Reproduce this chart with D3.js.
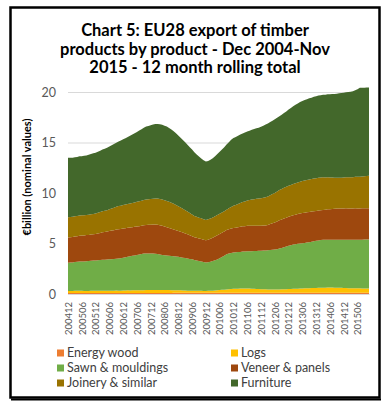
<!DOCTYPE html>
<html><head><meta charset="utf-8">
<script src="https://cdn.jsdelivr.net/npm/d3@7/dist/d3.min.js"></script>
<style>body{margin:0;background:#fff}svg{display:block}</style>
</head><body>
<script>
const titleLines = ["Chart 5: EU28 export of timber", "products by product - Dec 2004-Nov", "2015 - 12 month rolling total"];
const yLabel = "€billion (nominal values)";
const months = [
"200412",
"200501","200502","200503","200504","200505","200506","200507","200508","200509","200510","200511","200512",
"200601","200602","200603","200604","200605","200606","200607","200608","200609","200610","200611","200612",
"200701","200702","200703","200704","200705","200706","200707","200708","200709","200710","200711","200712",
"200801","200802","200803","200804","200805","200806","200807","200808","200809","200810","200811","200812",
"200901","200902","200903","200904","200905","200906","200907","200908","200909","200910","200911","200912",
"201001","201002","201003","201004","201005","201006","201007","201008","201009","201010","201011","201012",
"201101","201102","201103","201104","201105","201106","201107","201108","201109","201110","201111","201112",
"201201","201202","201203","201204","201205","201206","201207","201208","201209","201210","201211","201212",
"201301","201302","201303","201304","201305","201306","201307","201308","201309","201310","201311","201312",
"201401","201402","201403","201404","201405","201406","201407","201408","201409","201410","201411","201412",
"201501","201502","201503","201504","201505","201506","201507","201508","201509","201510","201511"];
const tickLabels = ["200412","200506","200512","200606","200612","200706","200712","200806","200812","200906","200912","201006","201012","201106","201112","201206","201212","201306","201312","201406","201412","201506"];
const yTicks = [0, 5, 10, 15, 20];
const seriesNames = ["Energy wood", "Logs", "Sawn & mouldings", "Veneer & panels", "Joinery & similar", "Furniture"];
const seriesColors = ["#ED7D31", "#FFC000", "#70AD47", "#9E480E", "#997300", "#43682B"];

const energyWood = [
0.10,0.10,0.09,0.10,0.10,0.10,0.11,0.10,0.10,0.10,0.10,0.10,
0.10,0.10,0.10,0.11,0.10,0.10,0.10,0.10,0.10,0.11,0.10,0.10,
0.10,0.10,0.11,0.10,0.10,0.10,0.10,0.10,0.10,0.10,0.11,0.10,
0.10,0.10,0.10,0.10,0.10,0.11,0.11,0.11,0.11,0.11,0.12,0.12,
0.12,0.12,0.12,0.12,0.12,0.12,0.13,0.13,0.13,0.13,0.13,0.13,
0.13,0.13,0.13,0.13,0.13,0.13,0.13,0.13,0.13,0.13,0.13,0.13,
0.13,0.13,0.13,0.13,0.13,0.13,0.13,0.13,0.12,0.12,0.12,0.12,
0.12,0.12,0.12,0.12,0.13,0.13,0.13,0.13,0.13,0.13,0.13,0.13,
0.13,0.13,0.13,0.13,0.13,0.13,0.13,0.13,0.13,0.13,0.13,0.13,
0.13,0.13,0.13,0.13,0.13,0.13,0.13,0.13,0.13,0.13,0.13,0.13,
0.13,0.13,0.13,0.13,0.13,0.13,0.13,0.13,0.13,0.13,0.13,0.13];
const logs = [
0.20,0.20,0.20,0.21,0.21,0.21,0.21,0.20,0.20,0.20,0.21,0.21,
0.21,0.21,0.22,0.22,0.22,0.22,0.22,0.22,0.22,0.23,0.23,0.23,
0.24,0.24,0.25,0.25,0.26,0.26,0.27,0.27,0.28,0.28,0.28,0.29,
0.29,0.30,0.30,0.30,0.30,0.29,0.29,0.28,0.28,0.27,0.26,0.26,
0.25,0.24,0.23,0.22,0.21,0.20,0.20,0.19,0.19,0.18,0.18,0.17,
0.17,0.18,0.19,0.20,0.22,0.24,0.26,0.28,0.30,0.32,0.34,0.36,
0.38,0.39,0.40,0.41,0.42,0.42,0.42,0.41,0.40,0.39,0.38,0.37,
0.36,0.35,0.34,0.33,0.32,0.32,0.31,0.31,0.32,0.33,0.34,0.35,
0.36,0.37,0.38,0.39,0.40,0.41,0.42,0.43,0.44,0.45,0.46,0.47,
0.47,0.48,0.49,0.50,0.50,0.51,0.51,0.51,0.50,0.50,0.49,0.48,
0.47,0.46,0.45,0.45,0.44,0.44,0.43,0.43,0.42,0.42,0.42,0.42];
const sawnMouldings = [
2.80,2.82,2.84,2.86,2.88,2.90,2.91,2.93,2.95,2.96,2.98,3.00,
3.01,3.03,3.04,3.06,3.08,3.09,3.11,3.12,3.14,3.16,3.18,3.22,
3.26,3.30,3.34,3.38,3.42,3.46,3.50,3.54,3.58,3.62,3.63,3.62,
3.61,3.60,3.58,3.55,3.50,3.47,3.44,3.42,3.40,3.38,3.36,3.34,
3.31,3.28,3.25,3.22,3.18,3.14,3.10,3.05,3.00,2.96,2.92,2.87,
2.82,2.84,2.88,2.93,2.99,3.05,3.15,3.25,3.36,3.48,3.54,3.58,
3.60,3.61,3.62,3.63,3.65,3.66,3.68,3.70,3.72,3.74,3.76,3.78,
3.80,3.83,3.85,3.88,3.91,3.94,3.97,4.00,4.05,4.10,4.16,4.22,
4.28,4.33,4.38,4.41,4.44,4.46,4.48,4.50,4.52,4.55,4.58,4.62,
4.66,4.69,4.72,4.73,4.73,4.74,4.74,4.74,4.75,4.75,4.75,4.76,
4.77,4.78,4.79,4.79,4.80,4.80,4.81,4.82,4.83,4.84,4.85,4.85];
const veneerPanels = [
2.50,2.51,2.52,2.53,2.54,2.55,2.56,2.57,2.58,2.59,2.60,2.61,
2.63,2.66,2.69,2.72,2.75,2.78,2.81,2.84,2.86,2.88,2.90,2.89,
2.88,2.87,2.86,2.85,2.84,2.83,2.82,2.81,2.80,2.80,2.82,2.84,
2.86,2.88,2.90,2.91,2.90,2.88,2.84,2.80,2.75,2.70,2.65,2.60,
2.56,2.52,2.48,2.44,2.40,2.35,2.30,2.26,2.24,2.23,2.22,2.21,
2.20,2.23,2.27,2.32,2.36,2.40,2.40,2.40,2.40,2.40,2.41,2.42,
2.43,2.44,2.46,2.48,2.50,2.51,2.52,2.52,2.52,2.51,2.50,2.49,
2.48,2.47,2.46,2.50,2.56,2.62,2.68,2.74,2.80,2.82,2.84,2.86,
2.88,2.89,2.90,2.92,2.94,2.96,2.98,2.99,3.00,3.00,2.99,2.98,
2.97,2.96,2.95,2.96,2.98,3.00,3.02,3.04,3.06,3.08,3.10,3.10,
3.10,3.11,3.10,3.09,3.10,3.11,3.10,3.09,3.10,3.11,3.10,3.10];
const joinerySimilar = [
2.00,1.99,1.99,2.00,2.00,2.01,2.00,2.00,1.99,2.00,2.00,2.01,
2.02,2.04,2.06,2.08,2.09,2.10,2.14,2.18,2.22,2.26,2.30,2.31,
2.32,2.34,2.36,2.38,2.40,2.42,2.44,2.46,2.48,2.50,2.52,2.53,
2.55,2.56,2.58,2.59,2.60,2.60,2.61,2.61,2.60,2.57,2.54,2.50,
2.45,2.40,2.35,2.30,2.25,2.20,2.15,2.10,2.08,2.06,2.04,2.02,
2.00,2.01,2.01,2.00,2.00,2.00,2.00,2.00,2.00,2.02,2.06,2.13,
2.20,2.25,2.30,2.35,2.40,2.45,2.50,2.55,2.60,2.63,2.66,2.69,
2.72,2.76,2.80,2.83,2.86,2.89,2.92,2.96,3.00,3.02,3.04,3.06,
3.07,3.08,3.10,3.12,3.14,3.16,3.18,3.19,3.20,3.21,3.22,3.23,
3.24,3.25,3.25,3.23,3.20,3.17,3.14,3.11,3.08,3.06,3.05,3.05,
3.06,3.07,3.08,3.09,3.10,3.12,3.13,3.14,3.16,3.17,3.19,3.20];
const furniture = [
5.90,5.88,5.86,5.85,5.84,5.86,5.85,5.88,5.90,5.94,5.97,6.00,
6.02,6.05,6.08,6.12,6.15,6.18,6.22,6.26,6.30,6.34,6.40,6.46,
6.52,6.58,6.62,6.70,6.78,6.85,6.92,7.00,7.08,7.15,7.22,7.26,
7.30,7.33,7.36,7.38,7.40,7.40,7.38,7.36,7.30,7.25,7.18,7.10,
7.00,6.92,6.82,6.72,6.62,6.52,6.42,6.30,6.18,6.05,5.92,5.85,
5.80,5.78,5.80,5.86,5.94,6.04,6.14,6.24,6.34,6.45,6.55,6.64,
6.70,6.73,6.76,6.78,6.80,6.82,6.84,6.86,6.90,6.94,6.98,7.02,
7.08,7.14,7.20,7.22,7.24,7.26,7.28,7.30,7.30,7.34,7.40,7.46,
7.55,7.62,7.70,7.76,7.82,7.88,7.92,7.96,8.00,8.04,8.06,8.10,
8.12,8.14,8.15,8.18,8.20,8.22,8.24,8.26,8.28,8.30,8.35,8.38,
8.40,8.42,8.46,8.48,8.50,8.58,8.68,8.80,8.78,8.76,8.76,8.75];

const seriesValues = [energyWood, logs, sawnMouldings, veneerPanels, joinerySimilar, furniture];
const rows = months.map((m, i) => {
  const r = {month: m, idx: i};
  seriesNames.forEach((n, k) => r[n] = seriesValues[k][i]);
  return r;
});

const W = 389, H = 406;
const svg = d3.select("body").append("svg").attr("width", W).attr("height", H);
svg.append("rect").attr("width", W).attr("height", H).attr("fill", "#fff");

// frame
svg.append("rect").attr("x", 10.5).attr("y", 7.5).attr("width", 369).attr("height", 390)
  .attr("fill", "none").attr("stroke", "#000").attr("stroke-width", 2.5);
svg.append("line").attr("x1", 11).attr("x2", 381).attr("y1", 399.5).attr("y2", 399.5)
  .attr("stroke", "#000").attr("stroke-width", 2);

// title
const titleFont = "Lato, 'Open Sans', sans-serif";
svg.append("g").selectAll("text").data(titleLines).join("text")
  .attr("x", 195).attr("y", (d, i) => 36 + i * 18.5)
  .attr("text-anchor", "middle").attr("font-family", titleFont)
  .attr("font-weight", "bold").attr("font-size", 16.5).attr("fill", "#000")
  .text(d => d);

const x = d3.scaleLinear().domain([0, months.length - 1]).range([68, 369]);
const y = d3.scaleLinear().domain([0, 20]).range([294, 92]);

// gridlines
svg.append("g").selectAll("line").data(yTicks).join("line")
  .attr("x1", 68).attr("x2", 369).attr("y1", d => y(d) + 0.5).attr("y2", d => y(d) + 0.5)
  .attr("stroke", "#d9d9d9").attr("stroke-width", 1);

// stacked areas
const stacked = d3.stack().keys(seriesNames)(rows);
const area = d3.area().x(d => x(d.data.idx)).y0(d => y(d[0])).y1(d => y(d[1]));
svg.append("g").selectAll("path").data(stacked).join("path")
  .attr("d", area).attr("fill", (d, i) => seriesColors[i]);

// y axis
const yAxis = svg.append("g").attr("transform", "translate(68,0)")
  .call(d3.axisLeft(y).tickValues(yTicks).tickSize(0).tickPadding(12));
yAxis.select(".domain").remove();
yAxis.selectAll("text").attr("font-family", "Lato, sans-serif").attr("font-size", 12.5).attr("fill", "#595959");

// x axis
const xAxis = svg.append("g").attr("transform", "translate(0,294)")
  .call(d3.axisBottom(x).tickValues(tickLabels.map(t => months.indexOf(t))).tickFormat(i => months[i]).tickSize(0));
xAxis.select(".domain").attr("stroke", "#d9d9d9");
xAxis.selectAll("text")
  .attr("transform", "rotate(-90)").attr("text-anchor", "end")
  .attr("x", -8).attr("y", 0).attr("dy", "0.35em")
  .attr("font-family", "Lato, sans-serif").attr("font-size", 9.5).attr("fill", "#595959");

// y label
svg.append("text").attr("transform", "translate(31,177) rotate(-90)")
  .attr("text-anchor", "middle").attr("font-family", titleFont)
  .attr("font-weight", "bold").attr("font-size", 11).attr("fill", "#000").text(yLabel);

// legend
const legX = [57, 231], legY = [353, 368, 383];
const leg = svg.append("g").selectAll("g").data(seriesNames).join("g")
  .attr("transform", (d, i) => `translate(${legX[i % 2]},${legY[Math.floor(i / 2)]})`);
leg.append("rect").attr("x", 0).attr("y", -3.5).attr("width", 7).attr("height", 7)
  .attr("fill", (d, i) => seriesColors[i]);
leg.append("text").attr("x", 10).attr("y", 0).attr("dy", "0.35em")
  .attr("font-family", "Lato, sans-serif").attr("font-size", 12.5).attr("fill", "#404040")
  .text(d => d);
</script>
</body></html>
